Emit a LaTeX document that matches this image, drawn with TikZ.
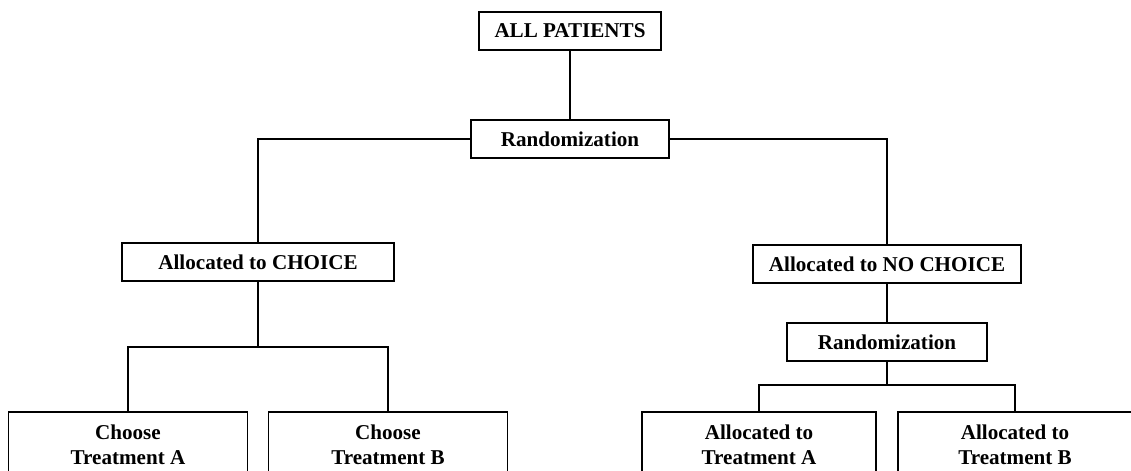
\documentclass[tikz,border=0pt]{standalone}
\usepackage{fontspec}
\setmainfont{Liberation Serif}
\usetikzlibrary{positioning}

\begin{document}
\begin{tikzpicture}[x=0.025cm, y=-0.025cm, line width=1.1pt, on grid,
  box/.style={draw, rectangle, font=\bfseries\fontsize{15}{18}\selectfont,
    minimum height=0.95cm, inner sep=2pt, align=center},
  tall/.style={box, minimum height=1.65cm}]
  \useasboundingbox (0,0) rectangle (1131,471);
  \node[box, minimum width=4.55cm] (all) at (570,31) {ALL PATIENTS};
  \node[box, minimum width=4.95cm] (rand) [below=2.7cm of all] {Randomization};
  \node[box, minimum width=6.8cm] (choice) at (258,262) {Allocated to CHOICE};
  \node[box, minimum width=6.7cm] (nochoice) at (887,264) {Allocated to NO CHOICE};
  \node[box, minimum width=5cm] (rand2) [below=1.95cm of nochoice] {Randomization};
  \node[tall, minimum width=5.975cm] (ca) at (128,445) {Choose\\Treatment A};
  \node[tall, minimum width=5.975cm] (cb) at (388,445) {Choose\\Treatment B};
  \node[tall, minimum width=5.85cm] (aa) at (759,445) {Allocated to\\Treatment A};
  \node[tall, minimum width=5.85cm] (ab) at (1015,445) {Allocated to\\Treatment B};
  \coordinate (j1) at (258,347);
  \coordinate (j2) at (887,385);
  \draw (all) -- (rand);
  \draw (rand.west) -| (choice.north);
  \draw (rand.east) -| (nochoice.north);
  \draw (choice) -- (j1);
  \draw (ca.north) |- (j1) -| (cb.north);
  \draw (nochoice) -- (rand2);
  \draw (rand2) -- (j2);
  \draw (aa.north) |- (j2) -| (ab.north);
\end{tikzpicture}
\end{document}
